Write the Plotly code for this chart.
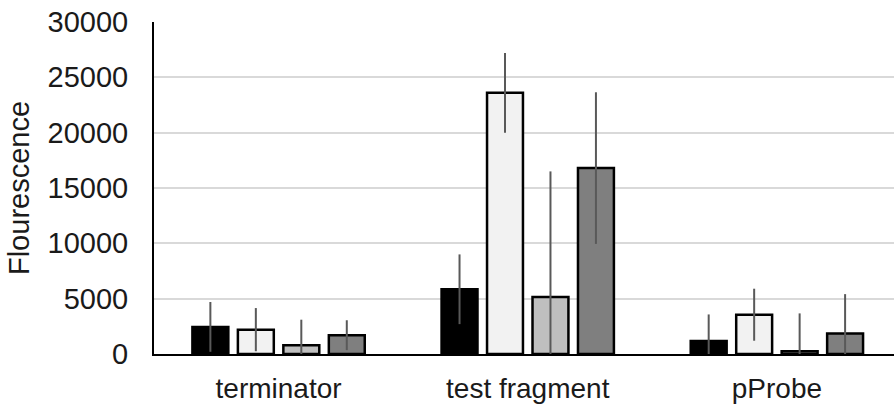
import plotly.graph_objects as go

categories = ["terminator", "test fragment", "pProbe"]

series_names = ["Series 1", "Series 2", "Series 3", "Series 4"]
series_values = [
    [2450, 5850, 1175],
    [2200, 23600, 3550],
    [800, 5150, 250],
    [1700, 16800, 1850],
]
series_errors = [
    [2250, 3150, 2400],
    [1950, 3600, 2350],
    [2300, 11350, 3420],
    [1350, 6850, 3560],
]
series_colors = ["#000000", "#f2f2f2", "#bfbfbf", "#7f7f7f"]

y_ticks = [0, 5000, 10000, 15000, 20000, 25000, 30000]
y_tick_labels = ["0", "5000", "10000", "15000", "20000", "25000", "30000"]

FONT = "Liberation Sans, Arial, sans-serif"

fig = go.Figure()
for name, vals, errs, col in zip(series_names, series_values, series_errors, series_colors):
    fig.add_trace(go.Bar(
        x=categories, y=vals, name=name,
        marker=dict(color=col, line=dict(color="#000000", width=2.5)),
        error_y=dict(type="data", array=errs, visible=True,
                     color="#595959", thickness=2, width=0),
        showlegend=False,
    ))

fig.update_layout(
    width=894, height=404,
    margin=dict(l=154, r=0, t=22, b=50, pad=0),
    paper_bgcolor="white", plot_bgcolor="white",
    barmode="group", bargap=0.27, bargroupgap=0.21,
    font=dict(family=FONT, size=28, color="#1a1a1a"),
    xaxis=dict(
        type="category", range=[-0.5, 2.47],
        showline=True, linecolor="#000000", linewidth=2,
        showgrid=False, ticks="", ticklabelstandoff=8,
        tickfont=dict(size=28),
    ),
    yaxis=dict(
        range=[0, 30000], tickvals=y_ticks, ticktext=y_tick_labels,
        showline=True, linecolor="#000000", linewidth=2,
        showgrid=True, gridcolor="#d9d9d9", gridwidth=2,
        zeroline=False, ticks="", ticklabelstandoff=18,
        tickfont=dict(size=29),
        title=dict(text="Flourescence", standoff=9, font=dict(size=29)),
    ),
)

fig.write_html("out.html")
